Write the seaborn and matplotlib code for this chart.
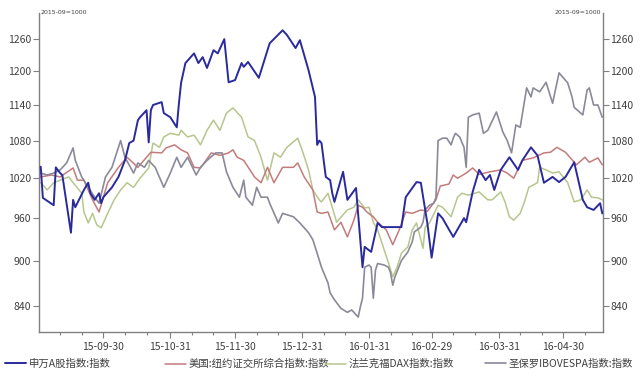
import numpy as np
import pandas as pd
import matplotlib
matplotlib.use("Agg")
import matplotlib.pyplot as plt
import matplotlib.dates as mdates
from matplotlib.ticker import FixedLocator, NullLocator, FixedFormatter
import seaborn as sns

# ---------------- data ----------------
series_names = ["申万A股指数:指数", "美国:纽约证交所综合指数:指数",
                "法兰克福DAX指数:指数", "圣保罗IBOVESPA指数:指数"]

blue_dates = ["2015-09-01", "2015-09-02", "2015-09-07", "2015-09-08", "2015-09-10", "2015-09-11", "2015-09-15",
              "2015-09-16", "2015-09-17", "2015-09-21", "2015-09-23", "2015-09-24", "2015-09-26",
              "2015-09-28", "2015-09-29", "2015-09-30", "2015-10-04", "2015-10-07", "2015-10-10",
              "2015-10-12", "2015-10-14", "2015-10-16", "2015-10-17", "2015-10-20", "2015-10-21",
              "2015-10-22", "2015-10-23", "2015-10-27", "2015-10-28", "2015-10-31", "2015-11-03",
              "2015-11-04", "2015-11-05", "2015-11-07", "2015-11-11", "2015-11-13", "2015-11-15",
              "2015-11-17", "2015-11-20", "2015-11-22", "2015-11-25", "2015-11-27", "2015-11-30",
              "2015-12-03", "2015-12-04", "2015-12-06", "2015-12-11", "2015-12-16", "2015-12-22",
              "2015-12-24", "2015-12-28", "2015-12-30", "2016-01-03", "2016-01-06", "2016-01-07",
              "2016-01-08", "2016-01-09", "2016-01-11", "2016-01-13", "2016-01-14", "2016-01-15",
              "2016-01-19", "2016-01-21", "2016-01-25", "2016-01-26", "2016-01-28", "2016-01-29",
              "2016-02-01", "2016-02-04", "2016-02-06", "2016-02-15", "2016-02-17", "2016-02-22",
              "2016-02-24", "2016-02-27", "2016-02-29", "2016-03-03", "2016-03-05", "2016-03-10",
              "2016-03-15", "2016-03-16", "2016-03-19", "2016-03-22", "2016-03-25", "2016-03-27",
              "2016-03-29", "2016-04-01", "2016-04-05", "2016-04-09", "2016-04-11", "2016-04-15",
              "2016-04-18", "2016-04-21", "2016-04-25", "2016-04-28", "2016-05-01", "2016-05-05",
              "2016-05-09", "2016-05-11", "2016-05-14", "2016-05-17", "2016-05-18"]
blue_values = [1038, 990, 979, 1037, 1028, 1025, 939,
               987, 976, 1002, 1013, 997, 987,
               997, 982, 991, 1006, 1022, 1048,
               1076, 1080, 1114, 1119, 1131, 1077,
               1131, 1140, 1145, 1126, 1119, 1102,
               1143, 1179, 1215, 1233, 1215, 1226,
               1206, 1239, 1233, 1260, 1180, 1184,
               1215, 1208, 1217, 1188, 1252, 1277,
               1268, 1243, 1258, 1202, 1154, 1073,
               1080, 1076, 1022, 1017, 997, 984,
               1030, 987, 1005, 965, 891, 919,
               912, 953, 947, 947, 991, 1014,
               1013, 953, 904, 967, 960, 933,
               960, 954, 999, 1033, 1017, 1025,
               1002, 1033, 1053, 1033, 1048, 1069,
               1056, 1013, 1022, 1014, 1022, 1045,
               987, 976, 972, 982, 967]

red_dates = ["2015-09-01", "2015-09-06", "2015-09-10", "2015-09-16", "2015-09-18", "2015-09-21",
             "2015-09-25", "2015-09-28", "2015-10-02", "2015-10-07", "2015-10-11", "2015-10-16",
             "2015-10-22", "2015-10-27", "2015-10-29", "2015-11-02", "2015-11-05", "2015-11-08",
             "2015-11-11", "2015-11-14", "2015-11-19", "2015-11-23", "2015-11-27", "2015-11-29",
             "2015-12-01", "2015-12-04", "2015-12-09", "2015-12-12", "2015-12-15", "2015-12-18",
             "2015-12-22", "2015-12-27", "2015-12-29", "2016-01-01", "2016-01-05", "2016-01-07",
             "2016-01-09", "2016-01-12", "2016-01-15", "2016-01-18", "2016-01-21", "2016-01-24",
             "2016-01-26", "2016-01-28", "2016-01-30", "2016-02-02", "2016-02-04", "2016-02-08",
             "2016-02-11", "2016-02-14", "2016-02-17", "2016-02-20", "2016-02-24", "2016-02-27",
             "2016-03-02", "2016-03-04", "2016-03-08", "2016-03-10", "2016-03-12", "2016-03-16",
             "2016-03-19", "2016-03-22", "2016-03-27", "2016-04-01", "2016-04-04", "2016-04-07",
             "2016-04-11", "2016-04-16", "2016-04-21", "2016-04-24", "2016-04-27", "2016-05-01",
             "2016-05-03", "2016-05-06", "2016-05-10", "2016-05-12", "2016-05-16", "2016-05-18"]
red_values = [1022, 1025, 1022, 1036, 1017, 1017,
              987, 969, 1013, 1037, 1053, 1037,
              1061, 1060, 1068, 1073, 1065, 1060,
              1037, 1036, 1060, 1056, 1060, 1065,
              1053, 1048, 1022, 1013, 1037, 1013,
              1037, 1037, 1044, 1022, 1002, 969,
              967, 969, 943, 954, 933, 957,
              979, 976, 969, 962, 954, 943,
              922, 943, 969, 967, 972, 970,
              987, 1008, 1011, 1025, 1020, 1028,
              1036, 1026, 1030, 1033, 1028, 1020,
              1048, 1052, 1060, 1061, 1069, 1061,
              1053, 1041, 1053, 1045, 1052, 1041]

green_dates = ["2015-09-01", "2015-09-04", "2015-09-07", "2015-09-10", "2015-09-14", "2015-09-16",
               "2015-09-20", "2015-09-21", "2015-09-23", "2015-09-25", "2015-09-27", "2015-09-29",
               "2015-10-02", "2015-10-05", "2015-10-08", "2015-10-11", "2015-10-14", "2015-10-17",
               "2015-10-21", "2015-10-23", "2015-10-26", "2015-10-28", "2015-10-31", "2015-11-04",
               "2015-11-05", "2015-11-08", "2015-11-11", "2015-11-14", "2015-11-17", "2015-11-20",
               "2015-11-23", "2015-11-26", "2015-11-29", "2015-12-03", "2015-12-06", "2015-12-09",
               "2015-12-12", "2015-12-15", "2015-12-18", "2015-12-21", "2015-12-24", "2015-12-29",
               "2015-12-31", "2016-01-03", "2016-01-05", "2016-01-08", "2016-01-09", "2016-01-12",
               "2016-01-14", "2016-01-16", "2016-01-19", "2016-01-21", "2016-01-24", "2016-01-26",
               "2016-01-29", "2016-01-31", "2016-02-02", "2016-02-04", "2016-02-07", "2016-02-09",
               "2016-02-11", "2016-02-13", "2016-02-15", "2016-02-18", "2016-02-20", "2016-02-22",
               "2016-02-24", "2016-02-25", "2016-02-26", "2016-02-28", "2016-03-03", "2016-03-05",
               "2016-03-09", "2016-03-12", "2016-03-14", "2016-03-17", "2016-03-22", "2016-03-26",
               "2016-03-28", "2016-04-01", "2016-04-03", "2016-04-05", "2016-04-07", "2016-04-10",
               "2016-04-12", "2016-04-14", "2016-04-18", "2016-04-19", "2016-04-22", "2016-04-25",
               "2016-04-28", "2016-05-02", "2016-05-05", "2016-05-08", "2016-05-11", "2016-05-13",
               "2016-05-16", "2016-05-18"]
green_values = [1013, 1002, 1013, 1017, 1022, 1013,
                997, 969, 953, 967, 950, 946,
                967, 987, 1002, 1013, 1006, 1020,
                1036, 1076, 1069, 1086, 1092, 1089,
                1097, 1086, 1089, 1073, 1097, 1114,
                1097, 1126, 1135, 1119, 1086, 1080,
                1053, 1017, 1060, 1053, 1069, 1084,
                1065, 1033, 1002, 987, 984, 997,
                976, 954, 965, 972, 976, 987,
                975, 976, 954, 943, 915, 897,
                878, 891, 910, 919, 943, 953,
                929, 917, 947, 953, 979, 976,
                962, 991, 997, 994, 999, 987,
                987, 999, 984, 962, 957, 967,
                984, 1006, 1013, 1037, 1033, 1028,
                1030, 1013, 984, 987, 1002, 991,
                990, 987]

gray_dates = ["2015-09-01", "2015-09-04", "2015-09-07", "2015-09-10", "2015-09-13", "2015-09-16",
              "2015-09-17", "2015-09-20", "2015-09-23", "2015-09-26", "2015-09-28", "2015-10-01",
              "2015-10-04", "2015-10-08", "2015-10-10", "2015-10-14", "2015-10-16", "2015-10-19",
              "2015-10-21", "2015-10-24", "2015-10-28", "2015-10-31", "2015-11-03", "2015-11-05",
              "2015-11-08", "2015-11-12", "2015-11-14", "2015-11-17", "2015-11-21", "2015-11-24",
              "2015-11-26", "2015-11-29", "2015-12-02", "2015-12-04", "2015-12-05", "2015-12-08",
              "2015-12-10", "2015-12-12", "2015-12-15", "2015-12-16", "2015-12-20", "2015-12-22",
              "2015-12-27", "2015-12-30", "2016-01-03", "2016-01-05", "2016-01-07", "2016-01-09",
              "2016-01-12", "2016-01-13", "2016-01-15", "2016-01-18", "2016-01-21", "2016-01-23",
              "2016-01-26", "2016-01-27", "2016-01-28", "2016-01-29", "2016-01-31", "2016-02-01",
              "2016-02-02", "2016-02-03", "2016-02-04", "2016-02-07", "2016-02-09", "2016-02-10",
              "2016-02-11", "2016-02-12", "2016-02-15", "2016-02-18", "2016-02-20", "2016-02-21",
              "2016-02-24", "2016-02-25", "2016-02-26", "2016-02-28", "2016-03-01", "2016-03-02",
              "2016-03-03", "2016-03-05", "2016-03-07", "2016-03-09", "2016-03-10", "2016-03-11",
              "2016-03-13", "2016-03-15", "2016-03-16", "2016-03-17", "2016-03-19", "2016-03-22",
              "2016-03-24", "2016-03-26", "2016-03-30", "2016-04-02", "2016-04-04", "2016-04-06",
              "2016-04-08", "2016-04-10", "2016-04-13", "2016-04-15", "2016-04-16", "2016-04-19",
              "2016-04-22", "2016-04-25", "2016-04-28", "2016-04-30", "2016-05-02", "2016-05-04",
              "2016-05-05", "2016-05-09", "2016-05-11", "2016-05-12", "2016-05-14", "2016-05-16",
              "2016-05-18"]
gray_values = [1028, 1025, 1028, 1033, 1044, 1068,
               1048, 1022, 1006, 991, 982, 1022,
               1037, 1080, 1053, 1028, 1044, 1037,
               1048, 1037, 1006, 1028, 1053, 1037,
               1053, 1025, 1037, 1048, 1060, 1060,
               1030, 1006, 991, 1017, 991, 979,
               1006, 991, 991, 982, 953, 967,
               962, 953, 939, 929, 910, 891,
               870, 857, 848, 837, 832, 835,
               826, 839, 850, 891, 894, 891,
               850, 887, 896, 894, 891, 883,
               867, 878, 900, 912, 926, 940,
               947, 954, 972, 979, 982, 991,
               1080, 1084, 1084, 1073, 1084, 1092,
               1086, 1069, 1037, 1119, 1123, 1126,
               1092, 1097, 1128, 1094, 1080, 1060,
               1106, 1102, 1170, 1154, 1170, 1163,
               1180, 1143, 1197, 1188, 1179, 1154,
               1136, 1123, 1166, 1170, 1140, 1140,
               1119]

y_ticks = [840, 900, 960, 1020, 1080, 1140, 1200, 1260]
x_tick_dates = ["2015-09-30", "2015-10-31", "2015-11-30", "2015-12-31",
                "2016-01-31", "2016-02-29", "2016-03-31", "2016-04-30"]
base_note = "2015-09=1000"

# ---------------- build long table ----------------
frames = []
for name, d, v in zip(series_names,
                      [blue_dates, red_dates, green_dates, gray_dates],
                      [blue_values, red_values, green_values, gray_values]):
    frames.append(pd.DataFrame({"date": pd.to_datetime(d), "value": v, "series": name}))
df = pd.concat(frames, ignore_index=True)

colors = ["#2a2a9c", "#c47b7b", "#b7c68c", "#8a8a98"]
widths = [1.4, 1.1, 1.1, 1.2]
zorders = [5, 3, 2, 4]

sns.set_theme(style="white")
plt.rcParams["font.family"] = ["Noto Sans CJK SC", "DejaVu Sans"]
plt.rcParams["axes.unicode_minus"] = False

fig = plt.figure(figsize=(6.4, 3.78), dpi=100)
ax = fig.add_axes([39 / 640, 46 / 378, (602.7 - 39) / 640, (332 - 13) / 378])

for name, c, lw, z in zip(series_names, colors, widths, zorders):
    sub = df[df["series"] == name]
    sns.lineplot(data=sub, x="date", y="value", ax=ax, color=c, linewidth=lw,
                 label=name, estimator=None, sort=True, zorder=z)
if ax.get_legend() is not None:
    ax.get_legend().remove()

ax.set_yscale("log")
ax.set_ylim(807.5, 1311)
ax.yaxis.set_major_locator(FixedLocator(y_ticks))
ax.yaxis.set_major_formatter(FixedFormatter([str(t) for t in y_ticks]))
ax.yaxis.set_minor_locator(NullLocator())

ax.set_xlim(pd.Timestamp("2015-08-31 05:00"), pd.Timestamp("2016-05-18 05:00"))
xt = pd.to_datetime(x_tick_dates)
ax.set_xticks(xt)
ax.set_xticklabels([t.strftime("%y-%m-%d") for t in xt])
ax.xaxis.set_minor_locator(mdates.DayLocator(bymonthday=[10, 20]))

ax.set_xlabel("")
ax.set_ylabel("")

spine_col = "#808080"
for s in ["left", "right", "bottom"]:
    ax.spines[s].set_visible(True)
    ax.spines[s].set_color(spine_col)
    ax.spines[s].set_linewidth(1.0)
ax.spines["top"].set_visible(False)

ax.tick_params(axis="y", which="major", left=True, right=True, labelleft=True, labelright=True,
               direction="out", length=4, width=0.8, color=spine_col, labelsize=7.5,
               labelcolor="#404040", pad=1.5)
ax.tick_params(axis="x", which="major", bottom=True, direction="out", length=4, width=0.8,
               color=spine_col, labelsize=7.5, labelcolor="#404040", pad=3)
ax.tick_params(axis="x", which="minor", bottom=True, direction="out", length=2.5, width=0.8,
               color=spine_col)

ax.text(0.003, 1.0, base_note, transform=ax.transAxes, fontsize=4.5, color="#404040",
        ha="left", va="center", family=["DejaVu Sans"])
ax.text(0.997, 1.0, base_note, transform=ax.transAxes, fontsize=4.5, color="#404040",
        ha="right", va="center", family=["DejaVu Sans"])

handles, labels = ax.get_legend_handles_labels()
leg_x = [5, 165, 325, 485]
for h, l, x0 in zip(handles, labels, leg_x):
    fig.legend(handles=[h], labels=[l], loc="center left",
               bbox_to_anchor=(x0 / 640, 14 / 378), frameon=False, fontsize=7.5,
               handlelength=2.0, handletextpad=0.25, borderpad=0, borderaxespad=0,
               labelcolor="#404040")

fig.savefig("out.png", dpi=100, facecolor="white")
